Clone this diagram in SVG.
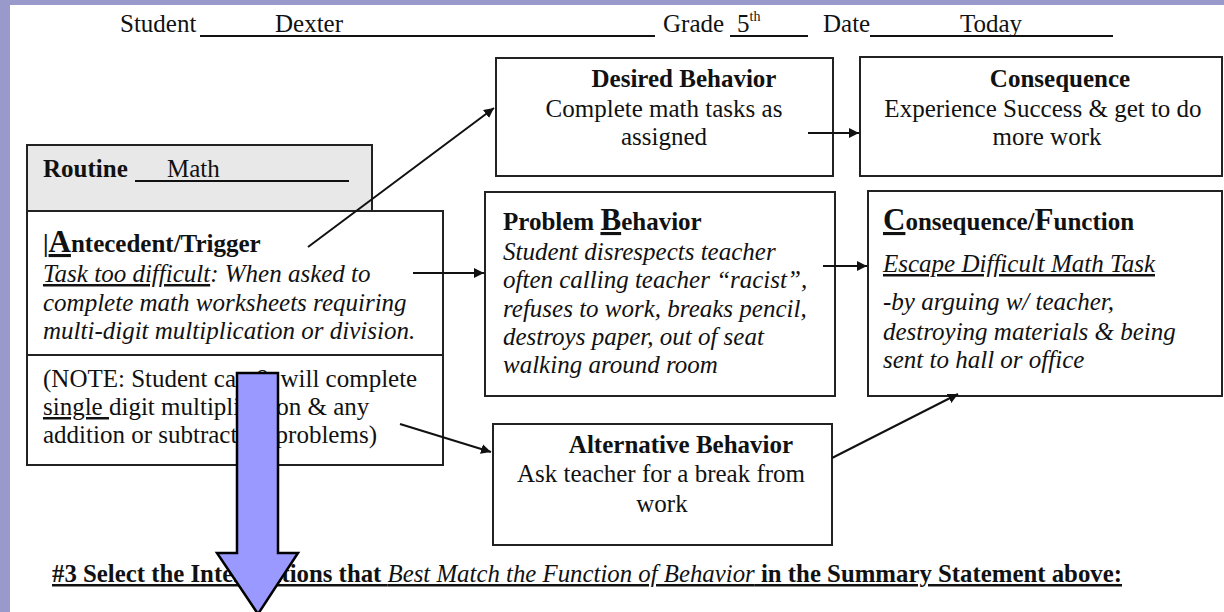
<svg xmlns="http://www.w3.org/2000/svg" width="1224" height="612" viewBox="0 0 1224 612" font-family="'Liberation Serif', 'DejaVu Serif', serif">
<style>
text{font-family:'Liberation Serif','DejaVu Serif',serif;fill:#111;font-size:25px}
.b{font-weight:bold}
.i{font-style:italic}
.u{text-decoration:underline}
.box{fill:#fff;stroke:#222;stroke-width:2}
.ln{stroke:#111;stroke-width:2;fill:none}
.con{stroke:#111;stroke-width:2;fill:none;marker-end:url(#ah)}
</style>
<defs>
<marker id="ah" viewBox="0 0 10 10" refX="10" refY="5" markerWidth="5" markerHeight="5" orient="auto" markerUnits="strokeWidth">
<path d="M0,0 L10,5 L0,10 z" fill="#111"/>
</marker>
</defs>
<rect x="0" y="0" width="1224" height="612" fill="#9999cc"/>
<rect x="10" y="5" width="1214" height="607" fill="#fff"/>

<g id="header">
<text x="120" y="32">Student</text>
<line class="ln" x1="200" y1="36" x2="655" y2="36"/>
<text x="275" y="32">Dexter</text>
<text x="663" y="32">Grade</text>
<line class="ln" x1="730" y1="36" x2="808" y2="36"/>
<text x="737" y="32">5<tspan font-size="14" dy="-11">th</tspan></text>
<text x="823" y="32">Date</text>
<line class="ln" x1="870" y1="36" x2="1113" y2="36"/>
<text x="960" y="32">Today</text>
</g>

<g id="routine">
<rect x="27" y="145" width="345" height="66" fill="#e8e8e8" stroke="#222" stroke-width="2"/>
<text x="43" y="177" class="b">Routine</text>
<line class="ln" x1="135" y1="181" x2="349" y2="181"/>
<text x="167" y="177">Math</text>
</g>

<g id="antecedent">
<rect class="box" x="27" y="211" width="416" height="144"/>
<text x="43" y="252" class="b">|<tspan font-size="31" class="u">A</tspan>ntecedent/Trigger</text>
<text x="43" y="282" class="i"><tspan class="u">Task too difficult</tspan>: When asked to</text>
<text x="43" y="311" class="i">complete math worksheets requiring</text>
<text x="43" y="339" class="i">multi-digit multiplication or division.</text>
</g>

<g id="note">
<rect class="box" x="27" y="355" width="416" height="110"/>
<text x="43" y="387">(NOTE: Student can &amp; will complete</text>
<text x="43" y="415"><tspan class="u">single </tspan>digit multiplication &amp; any</text>
<text x="43" y="443">addition or subtraction problems)</text>
</g>

<g id="desired">
<rect class="box" x="496" y="58" width="337" height="118"/>
<text x="684" y="87" class="b" text-anchor="middle">Desired Behavior</text>
<text x="664" y="117" text-anchor="middle">Complete math tasks as</text>
<text x="664" y="145" text-anchor="middle">assigned</text>
</g>

<g id="consequence">
<rect class="box" x="860" y="57" width="362" height="119"/>
<text x="1060" y="87" class="b" text-anchor="middle">Consequence</text>
<text x="1043" y="117" text-anchor="middle">Experience Success &amp; get to do</text>
<text x="1047" y="145" text-anchor="middle">more work</text>
</g>

<g id="problem">
<rect class="box" x="485" y="192" width="350" height="204"/>
<text x="503" y="230" class="b">Problem <tspan font-size="31" class="u">B</tspan>ehavior</text>
<text x="503" y="260" class="i">Student disrespects teacher</text>
<text x="503" y="288" class="i">often calling teacher “racist”,</text>
<text x="503" y="317" class="i">refuses to work, breaks pencil,</text>
<text x="503" y="345" class="i">destroys paper, out of seat</text>
<text x="503" y="373" class="i">walking around room</text>
</g>

<g id="function">
<rect class="box" x="868" y="191" width="354" height="205"/>
<text x="883" y="230" class="b"><tspan font-size="31" class="u">C</tspan>onsequence/<tspan font-size="31">F</tspan>unction</text>
<text x="883" y="272" class="i u">Escape Difficult Math Task</text>
<text x="883" y="310" class="i">-by arguing w/ teacher,</text>
<text x="883" y="340" class="i">destroying materials &amp; being</text>
<text x="883" y="368" class="i">sent to hall or office</text>
</g>

<g id="alternative">
<rect class="box" x="493" y="424" width="339" height="121"/>
<text x="681" y="453" class="b" text-anchor="middle">Alternative Behavior</text>
<text x="661" y="482" text-anchor="middle">Ask teacher for a break from</text>
<text x="662" y="512" text-anchor="middle">work</text>
</g>

<g id="connectors">
<line class="con" x1="308" y1="247" x2="494" y2="108"/>
<line class="con" x1="413" y1="273" x2="484" y2="273"/>
<line class="con" x1="400" y1="424" x2="491" y2="452"/>
<line class="con" x1="808" y1="133" x2="859" y2="133"/>
<line class="con" x1="823" y1="266" x2="867" y2="266"/>
<line class="con" x1="832" y1="458" x2="958" y2="394"/>
</g>

<g id="instruction">
<text x="52" y="582" class="b u" font-size="22" textLength="1070" lengthAdjust="spacingAndGlyphs">#3 Select the Interventions that <tspan font-weight="normal" font-style="italic">Best Match the Function of Behavior</tspan> in the Summary Statement above:</text>
</g>

<g id="bigarrow">
<polygon points="237,373 278,373 278,553 298,553 258,614 217,553 237,553" fill="#9999ff" stroke="#000" stroke-width="2.5" stroke-linejoin="miter"/>
</g>
</svg>
